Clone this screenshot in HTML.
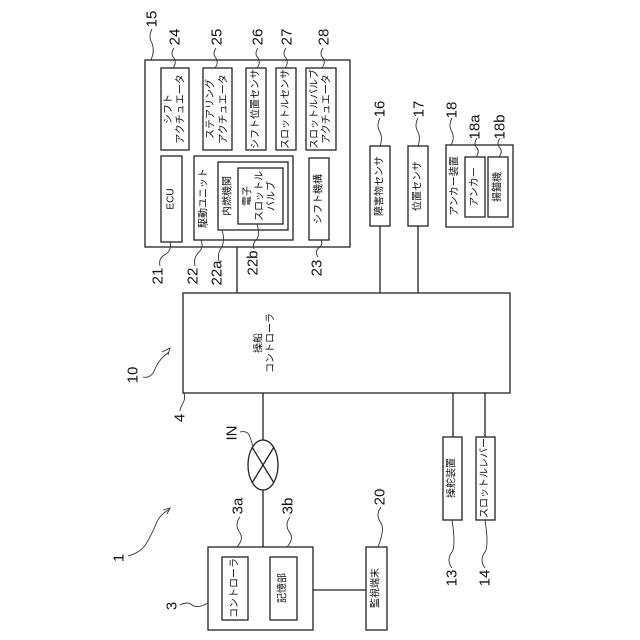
<!DOCTYPE html>
<html><head><meta charset="utf-8"><style>
html,body{margin:0;padding:0;background:#fff}
svg{display:block}
text{font-family:"Liberation Sans","Noto Sans CJK JP",sans-serif;fill:#111}
.n{font-size:15px}
.t{font-size:10px}
.r text{text-anchor:middle;dominant-baseline:central}
</style></head><body>
<svg width="640" height="640" viewBox="0 0 640 640" xmlns="http://www.w3.org/2000/svg">
<g fill="none" stroke="#222" stroke-width="1.3">
<rect x="145" y="60" width="205" height="187"/>
<rect x="161" y="68" width="28" height="82"/>
<rect x="203" y="68" width="29" height="82"/>
<rect x="246" y="68" width="20" height="82"/>
<rect x="276" y="68" width="20" height="82"/>
<rect x="306" y="68" width="30" height="82"/>
<rect x="161" y="156" width="21" height="86"/>
<rect x="194" y="156" width="99" height="84"/>
<rect x="218" y="162" width="70" height="68"/>
<rect x="238" y="168" width="45" height="56"/>
<rect x="309" y="158" width="20" height="82"/>
<line x1="237" y1="247" x2="237" y2="293"/>
<rect x="183" y="293" width="327" height="100"/>
<rect x="370" y="146" width="20" height="80"/>
<line x1="380" y1="226" x2="380" y2="293"/>
<rect x="408" y="146" width="20" height="80"/>
<line x1="418" y1="226" x2="418" y2="293"/>
<rect x="446" y="145" width="67" height="82"/>
<rect x="465" y="157" width="20" height="60"/>
<rect x="488" y="157" width="20" height="60"/>
<line x1="263" y1="393" x2="263" y2="440"/>
<ellipse cx="263" cy="465" rx="15" ry="25"/>
<line x1="252" y1="447" x2="274" y2="483"/>
<line x1="274" y1="447" x2="252" y2="483"/>
<line x1="263" y1="490" x2="263" y2="547"/>
<rect x="208" y="547" width="105" height="83"/>
<rect x="222" y="557" width="26" height="63"/>
<rect x="270" y="557" width="27" height="63"/>
<line x1="313" y1="590" x2="366" y2="590"/>
<rect x="366" y="547" width="21" height="83"/>
<line x1="453" y1="393" x2="453" y2="437"/>
<rect x="443" y="437" width="19" height="83"/>
<line x1="485" y1="393" x2="485" y2="437"/>
<rect x="476" y="437" width="19" height="83"/>
</g>
<g fill="none" stroke="#333" stroke-width="0.9">
<path d="M152 29 q-4 8 0 14 q3 8 -1 17"/>
<path d="M174 48 q-4 6 0 10 q3 5 -1 10"/>
<path d="M216 48 q-4 6 0 10 q3 5 -1 10"/>
<path d="M258 48 q-4 6 0 10 q3 5 -1 10"/>
<path d="M286 48 q-4 6 0 10 q3 5 -1 10"/>
<path d="M323 48 q-4 6 0 10 q3 5 -1 10"/>
<path d="M380 118 q-4 8 0 14 q3 6 0 14"/>
<path d="M418 118 q-4 8 0 14 q3 6 0 14"/>
<path d="M452 118 q-4 8 0 14 q3 6 -1 13"/>
<path d="M477 138 q-4 6 0 10 q3 4 -1 9"/>
<path d="M500 138 q-4 6 0 10 q3 4 -1 9"/>
<path d="M160 266 q-2 -8 6 -12 q6 -4 4 -12"/>
<path d="M195 266 q-2 -8 4 -14 q5 -5 2 -12"/>
<path d="M219 261 q-2 -8 3 -14 q3 -8 0 -17"/>
<path d="M254 249 q-2 -6 3 -10 q3 -5 0 -15"/>
<path d="M318 257 q-4 -6 2 -10 q3 -3 1 -7"/>
<path d="M143 377 q8 2 12 -8 q4 -10 14 -17"/>
<path d="M162 352 l8 -4 l-2 7"/>
<path d="M184 393 q2 6 -2 12 q-2 4 -2 6"/>
<path d="M240 432 q8 -2 10 5 q3 8 3 13"/>
<path d="M240 517 q-6 8 0 16 q4 6 -3 14"/>
<path d="M290 517 q-6 8 0 16 q4 6 -3 14"/>
<path d="M381 507 q-6 8 0 16 q4 6 -3 24"/>
<path d="M128 556 q12 -3 18 -12 q6 -10 10 -20 q4 -10 14 -15"/>
<path d="M163 510 l7 -2 l-3 6"/>
<path d="M180 605 q8 -4 12 0 q6 4 16 -2"/>
<path d="M452 568 q-6 -8 0 -16 q4 -6 0 -32"/>
<path d="M485 568 q-6 -8 0 -16 q4 -6 0 -32"/>
</g>
<g class="n r">
<text transform="translate(152,19) rotate(-90)">15</text>
<text transform="translate(175,37) rotate(-90)">24</text>
<text transform="translate(217,37) rotate(-90)">25</text>
<text transform="translate(258,37) rotate(-90)">26</text>
<text transform="translate(287,37) rotate(-90)">27</text>
<text transform="translate(324,37) rotate(-90)">28</text>
<text transform="translate(158,276) rotate(-90)">21</text>
<text transform="translate(193,276) rotate(-90)">22</text>
<text transform="translate(217,273) rotate(-90)">22a</text>
<text transform="translate(253,263) rotate(-90)">22b</text>
<text transform="translate(317,268) rotate(-90)">23</text>
<text transform="translate(380,109) rotate(-90)">16</text>
<text transform="translate(419,109) rotate(-90)">17</text>
<text transform="translate(452,110) rotate(-90)">18</text>
<text transform="translate(475,127) rotate(-90)">18a</text>
<text transform="translate(500,127) rotate(-90)">18b</text>
<text transform="translate(133,375) rotate(-90)">10</text>
<text transform="translate(180,418) rotate(-90)">4</text>
<text transform="translate(232,433) rotate(-90)">IN</text>
<text transform="translate(238,506) rotate(-90)">3a</text>
<text transform="translate(288,506) rotate(-90)">3b</text>
<text transform="translate(380,497) rotate(-90)">20</text>
<text transform="translate(119,558) rotate(-90)">1</text>
<text transform="translate(172,606) rotate(-90)">3</text>
<text transform="translate(452,578) rotate(-90)">13</text>
<text transform="translate(485,578) rotate(-90)">14</text>
</g>
<g class="t r">
<text transform="translate(169,109) rotate(-90)">シフト</text>
<text transform="translate(181,109) rotate(-90)">アクチュエータ</text>
<text transform="translate(211,109) rotate(-90)">ステアリング</text>
<text transform="translate(224,109) rotate(-90)">アクチュエータ</text>
<text transform="translate(256,109) rotate(-90)">シフト位置センサ</text>
<text transform="translate(286,109) rotate(-90)">スロットルセンサ</text>
<text transform="translate(315,109) rotate(-90)">スロットルバルブ</text>
<text transform="translate(327,109) rotate(-90)">アクチュエータ</text>
<text transform="translate(171,199) rotate(-90)">ECU</text>
<text transform="translate(204,198) rotate(-90)">駆動ユニット</text>
<text transform="translate(228,196) rotate(-90)">内燃機関</text>
<text transform="translate(248,196) rotate(-90)">電子</text>
<text transform="translate(260,196) rotate(-90)">スロットル</text>
<text transform="translate(272,196) rotate(-90)">バルブ</text>
<text transform="translate(319,199) rotate(-90)">シフト機構</text>
<text transform="translate(380,186) rotate(-90)">障害物センサ</text>
<text transform="translate(418,186) rotate(-90)">位置センサ</text>
<text transform="translate(455,186) rotate(-90)">アンカー装置</text>
<text transform="translate(475,187) rotate(-90)">アンカー</text>
<text transform="translate(498,187) rotate(-90)">揚錨機</text>
<text transform="translate(259,343) rotate(-90)">操船</text>
<text transform="translate(271,343) rotate(-90)">コントローラ</text>
<text transform="translate(235,588) rotate(-90)">コントローラ</text>
<text transform="translate(283,588) rotate(-90)">記憶部</text>
<text transform="translate(376,588) rotate(-90)">監視端末</text>
<text transform="translate(452,478) rotate(-90)">操舵装置</text>
<text transform="translate(485,478) rotate(-90)">スロットルレバー</text>
</g>
</svg>
</body></html>
